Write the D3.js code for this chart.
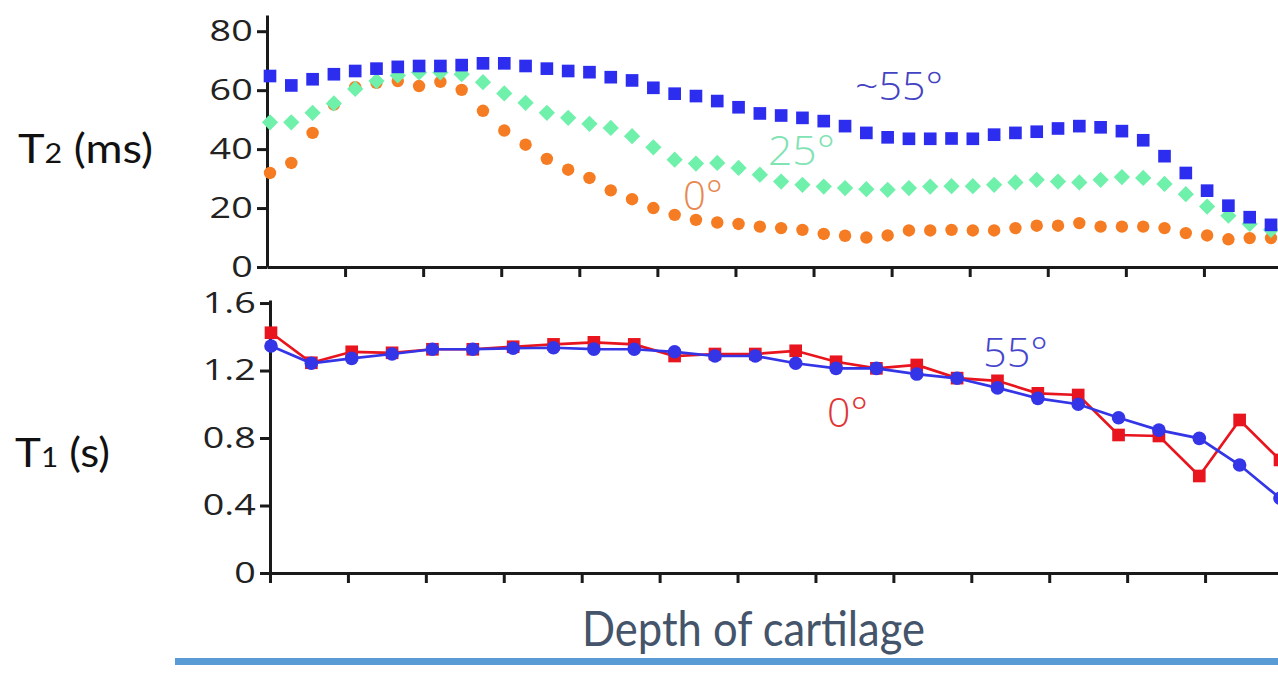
<!DOCTYPE html>
<html>
<head>
<meta charset="utf-8">
<script src="https://cdn.jsdelivr.net/npm/d3@7/dist/d3.min.js"></script>
<style>
    body { margin: 0; background: #fff; }
    svg { display: block; }
</style>
</head>
<body>
<div id="chart"></div>
<script>
// T2 (ms) per depth sample (48 samples)
var t2Angle55 = [64.8, 61.6, 63.7, 65.4, 66.5, 67.3, 67.9, 68.2, 68.2, 68.5, 69.1, 69.1, 68.2, 67.3, 66.5, 66.1,
    64.4, 63.3, 60.8, 58.8, 58.0, 56.3, 54.2, 52.1, 51.4, 50.6, 49.5, 47.8, 45.5, 44.0, 43.5, 43.5,
    43.6, 43.5, 44.9, 45.5, 45.9, 47.0, 47.8, 47.4, 46.1, 43.0, 37.6, 31.9, 25.9, 20.8, 16.9, 14.3];
var t2Angle25 = [49.1, 49.1, 52.3, 55.5, 60.4, 63.1, 65.0, 66.0, 66.0, 65.4, 62.7, 58.9, 55.7, 52.3, 50.6, 48.6,
    47.2, 44.4, 40.6, 36.4, 35.1, 35.3, 33.6, 31.3, 29.0, 27.9, 27.3, 26.8, 26.4, 26.2, 26.8, 27.3,
    27.4, 27.4, 27.9, 28.7, 29.6, 29.0, 28.7, 29.6, 30.5, 30.2, 28.2, 24.7, 20.5, 17.4, 14.6, 12.6];
var t2Angle0 = [31.9, 35.3, 45.5, 55.1, 61.0, 62.5, 63.1, 61.4, 62.8, 60.1, 53.0, 46.3, 41.5, 36.7, 33.0, 30.2,
    26.0, 23.0, 20.0, 17.7, 16.0, 15.1, 14.6, 13.7, 13.2, 12.6, 11.2, 10.6, 10.0, 10.7, 12.4, 12.4,
    12.6, 12.4, 12.4, 13.2, 14.0, 14.0, 14.9, 13.7, 13.7, 13.7, 13.2, 11.5, 10.7, 9.4, 9.8, 9.8];
var t2Ticks = [0, 20, 40, 60, 80];

// T1 (s) per depth sample, bottom panel (26 samples)
var t1Angle0 = [1.424, 1.246, 1.311, 1.305, 1.326, 1.326, 1.341, 1.355, 1.367, 1.355, 1.286, 1.298, 1.298,
    1.317, 1.252, 1.213, 1.233, 1.155, 1.139, 1.065, 1.055, 0.818, 0.812, 0.575, 0.907, 0.670];
var t1Angle55 = [1.345, 1.243, 1.272, 1.298, 1.326, 1.326, 1.332, 1.335, 1.327, 1.326, 1.311, 1.286, 1.286,
    1.243, 1.213, 1.213, 1.179, 1.154, 1.097, 1.035, 1.000, 0.920, 0.847, 0.798, 0.640, 0.443];
var t1Ticks = [0, 0.4, 0.8, 1.2, 1.6];

// depth axis ticks (no labels on the original)
var depthTicksTop = [1, 2, 3, 4, 5, 6, 7, 8, 9, 10, 11, 12];
var depthTicksBottom = [0, 1, 2, 3, 4, 5, 6, 7, 8, 9, 10, 11, 12];

var width = 1278, height = 680;
var axisColor = "#1a1a1a";

var svg = d3.select("#chart")
    .append("svg")
    .attr("width", width)
    .attr("height", height);

function styleAxis(g) {
    g.select(".domain").attr("stroke", axisColor).attr("stroke-width", 3);
    g.selectAll(".tick line").attr("stroke", axisColor).attr("stroke-width", 3);
    g.selectAll(".tick text")
        .attr("fill", "#222")
        .style("font-family", "'Open Sans', sans-serif")
        .style("font-size", "29px");
}

function yLabels(g) {
    // original tick labels look stretched sideways
    g.selectAll(".tick text")
        .attr("x", -11)
        .attr("transform", "scale(1.3,1)");
}

// ---------- top panel: T2 ----------
var xT2 = d3.scaleLinear().domain([0, 13]).range([267, 1282]);
var yT2 = d3.scaleLinear().domain([0, 85.5]).range([267, 15]);
var iT2 = d3.scaleLinear().domain([0, t2Angle55.length - 1]).range([270, 1271]);

svg.append("g")
    .attr("transform", "translate(0,267)")
    .call(d3.axisBottom(xT2).tickValues(depthTicksTop).tickSize(10).tickSizeOuter(0).tickFormat(""))
    .call(styleAxis);

svg.append("g")
    .attr("transform", "translate(267,0)")
    .call(d3.axisLeft(yT2).tickValues(t2Ticks).tickSize(10).tickSizeOuter(0).tickFormat(d3.format("d")))
    .call(styleAxis)
    .call(yLabels);

// 0° circles
svg.append("g")
    .selectAll("circle")
    .data(t2Angle0)
    .enter()
    .append("circle")
    .attr("cx", function (d, i) { return iT2(i); })
    .attr("cy", function (d) { return yT2(d); })
    .attr("r", 6.2)
    .attr("fill", "#f57c22");

// 25° diamonds
svg.append("g")
    .selectAll("path")
    .data(t2Angle25)
    .enter()
    .append("path")
    .attr("d", d3.symbol().type(d3.symbolSquare).size(132))
    .attr("transform", function (d, i) {
        return "translate(" + iT2(i) + "," + yT2(d) + ") rotate(45)";
    })
    .attr("fill", "#6ff0ab");

// ~55° squares
svg.append("g")
    .selectAll("path")
    .data(t2Angle55)
    .enter()
    .append("path")
    .attr("d", d3.symbol().type(d3.symbolSquare).size(160))
    .attr("transform", function (d, i) {
        return "translate(" + iT2(i) + "," + yT2(d) + ")";
    })
    .attr("fill", "#2d2df0");

// ---------- bottom panel: T1 ----------
var xT1 = d3.scaleLinear().domain([0, 13]).range([270, 1283]);
var yT1 = d3.scaleLinear().domain([0, 1.618]).range([573, 300]);
var iT1 = d3.scaleLinear().domain([0, t1Angle0.length - 1]).range([271, 1280]);

svg.append("g")
    .attr("transform", "translate(0,573)")
    .call(d3.axisBottom(xT1).tickValues(depthTicksBottom).tickSize(10).tickSizeOuter(0).tickFormat(""))
    .call(styleAxis);

svg.append("g")
    .attr("transform", "translate(270,0)")
    .call(d3.axisLeft(yT1).tickValues(t1Ticks).tickSize(10).tickSizeOuter(0)
        .tickFormat(function (d) { return d === 0 ? "0" : d3.format(".1f")(d); }))
    .call(styleAxis)
    .call(yLabels);

var lineT1 = d3.line()
    .x(function (d, i) { return iT1(i); })
    .y(function (d) { return yT1(d); });

// 0° (red squares)
svg.append("path")
    .datum(t1Angle0)
    .attr("d", lineT1)
    .attr("fill", "none")
    .attr("stroke", "#e8141e")
    .attr("stroke-width", 2.7);

svg.append("g")
    .selectAll("path")
    .data(t1Angle0)
    .enter()
    .append("path")
    .attr("d", d3.symbol().type(d3.symbolSquare).size(160))
    .attr("transform", function (d, i) {
        return "translate(" + iT1(i) + "," + yT1(d) + ")";
    })
    .attr("fill", "#e8141e");

// 55° (blue circles)
svg.append("path")
    .datum(t1Angle55)
    .attr("d", lineT1)
    .attr("fill", "none")
    .attr("stroke", "#3535e8")
    .attr("stroke-width", 2.7);

svg.append("g")
    .selectAll("circle")
    .data(t1Angle55)
    .enter()
    .append("circle")
    .attr("cx", function (d, i) { return iT1(i); })
    .attr("cy", function (d) { return yT1(d); })
    .attr("r", 6.8)
    .attr("fill", "#3535e8");

// ---------- series annotations ----------
function note(txt, x, y, len, size, color) {
    svg.append("text")
        .attr("x", x)
        .attr("y", y)
        .attr("textLength", len)
        .attr("lengthAdjust", "spacingAndGlyphs")
        .style("font-family", "'Open Sans', sans-serif")
        .style("font-weight", 300)
        .style("font-size", size + "px")
        .attr("fill", color)
        .text(txt);
}
note("~55°", 855, 100, 88, 38, "#4242c2");
note("25°", 768, 165, 67, 41, "#80e3b3");
note("0°", 683, 210, 40, 40, "#e8884f");
note("55°", 983, 367, 65, 41, "#4646cc");
note("0°", 827, 427, 41, 41, "#e03434");

// ---------- axis titles ----------
var t2Title = svg.append("text")
    .attr("x", 18)
    .attr("y", 163)
    .attr("textLength", 135)
    .attr("lengthAdjust", "spacingAndGlyphs")
    .style("font-family", "Lato, 'Open Sans', sans-serif")
    .style("font-size", "40px")
    .attr("fill", "#111");
t2Title.append("tspan").text("T");
t2Title.append("tspan").style("font-size", "27px").text("2");
t2Title.append("tspan").text(" (ms)");

var t1Title = svg.append("text")
    .attr("x", 15)
    .attr("y", 467)
    .attr("textLength", 95)
    .attr("lengthAdjust", "spacingAndGlyphs")
    .style("font-family", "Lato, 'Open Sans', sans-serif")
    .style("font-size", "40px")
    .attr("fill", "#111");
t1Title.append("tspan").text("T");
t1Title.append("tspan").style("font-size", "27px").text("1");
t1Title.append("tspan").text(" (s)");

svg.append("text")
    .attr("x", 582)
    .attr("y", 646)
    .attr("textLength", 343)
    .attr("lengthAdjust", "spacingAndGlyphs")
    .style("font-family", "Lato, 'Open Sans', sans-serif")
    .style("font-size", "48px")
    .attr("fill", "#44546a")
    .text("Depth of cartilage");

// slide underline
svg.append("rect")
    .attr("x", 175)
    .attr("y", 658)
    .attr("width", width - 175)
    .attr("height", 7)
    .attr("fill", "#5b9bd5");
</script>
</body>
</html>
